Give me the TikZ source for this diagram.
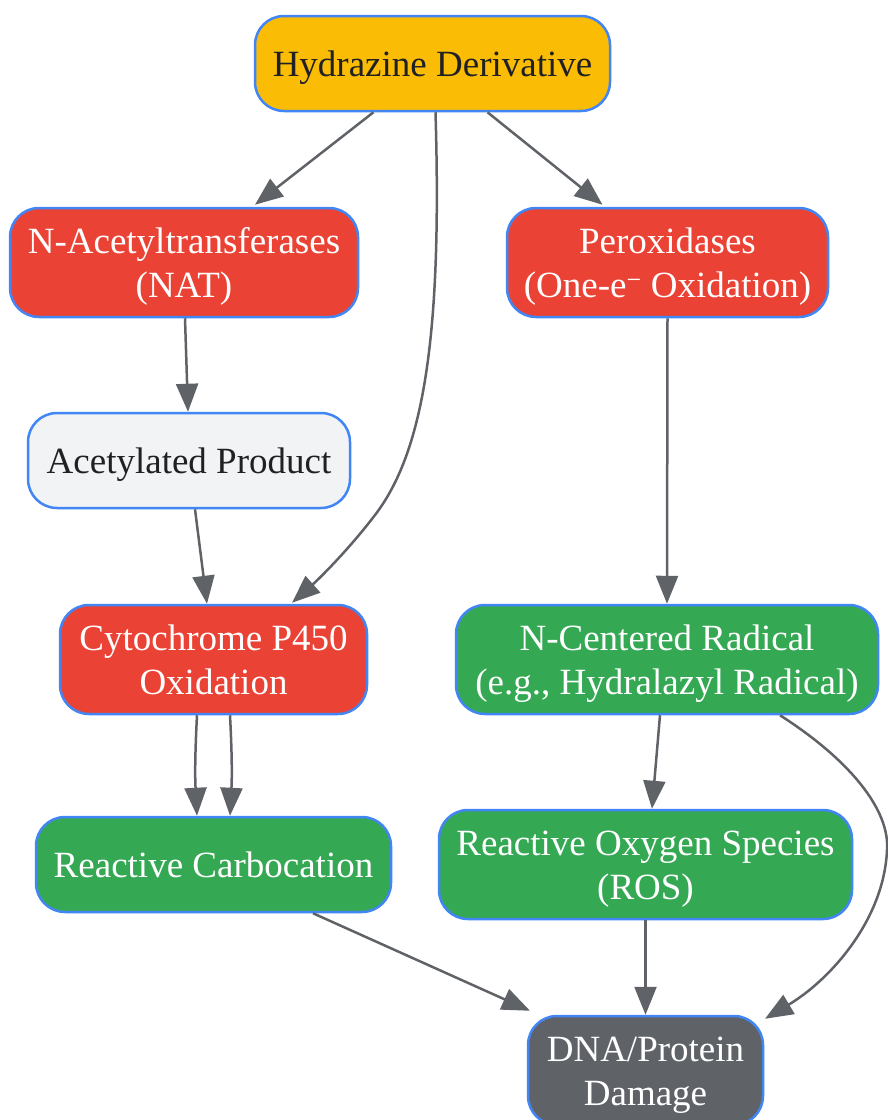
\documentclass[tikz,border=0pt]{standalone}
\usepackage{fontspec}
\setmainfont{Liberation Serif}
\usetikzlibrary{arrows.meta}
\definecolor{cyel}{HTML}{FBBC05}
\definecolor{cred}{HTML}{EA4335}
\definecolor{cgrn}{HTML}{34A853}
\definecolor{cgry}{HTML}{5F6368}
\definecolor{clgt}{HTML}{F1F3F5}
\definecolor{cblu}{HTML}{4285F4}
\definecolor{cdark}{HTML}{202124}
\definecolor{cedge}{HTML}{5F6368}
\newcommand\lnstrut{\rule[-8.8pt]{0pt}{44pt}}
\tikzset{
  box/.style={draw=cblu, line width=2.5pt, rounded corners=29pt, align=center,
    inner sep=0pt, font=\fontsize{37}{44}\selectfont, text=white},
  yel/.style={box, fill=cyel, text=cdark},
  red/.style={box, fill=cred},
  grn/.style={box, fill=cgrn},
  gry/.style={box, fill=cgry},
  lgt/.style={box, fill=clgt, text=cdark},
  conn/.style={draw=cedge, line width=2.5pt, -{Triangle[length=28pt,width=22pt]}},
}
\begin{document}
\begin{tikzpicture}[x=1pt,y=-1pt]
\useasboundingbox (0,0) rectangle (887,1120);
\node[yel, minimum width=355pt, minimum height=95pt] (hyd) at (432.5,63.5) {\lnstrut Hydrazine Derivative};
\node[red, minimum width=348pt, minimum height=109pt] (nat) at (184,262.5) {\lnstrut N-Acetyltransferases\\\lnstrut(NAT)};
\node[red, minimum width=321pt, minimum height=109pt] (per) at (667.5,262.5) {\lnstrut Peroxidases\\\lnstrut(One-e\textsuperscript{\char"2212} Oxidation)};
\node[lgt, minimum width=322pt, minimum height=95pt] (acp) at (189,460.5) {\lnstrut Acetylated Product};
\node[red, minimum width=307pt, minimum height=109pt] (cyp) at (213.5,659.5) {\lnstrut Cytochrome P450\\\lnstrut Oxidation};
\node[grn, minimum width=422pt, minimum height=109pt] (ncr) at (667,659.5) {\lnstrut N-Centered Radical\\\lnstrut(e.g., Hydralazyl Radical)};
\node[grn, minimum width=355pt, minimum height=95pt] (car) at (213.5,864.5) {\lnstrut Reactive Carbocation};
\node[grn, minimum width=413pt, minimum height=109pt] (ros) at (645.5,864.5) {\lnstrut Reactive Oxygen Species\\\lnstrut(ROS)};
\node[gry, minimum width=235pt, minimum height=109pt] (dna) at (645.5,1070.5) {\lnstrut DNA/Protein\\\lnstrut Damage};

\draw[conn] ([xshift=-59pt]hyd.south) -- ([xshift=71pt,yshift=2pt]nat.north);
\draw[conn] ([xshift=55pt]hyd.south) -- ([xshift=-65pt,yshift=2pt]per.north);
\draw[conn] ([xshift=3pt]hyd.south) .. controls (442,330) and (425,450) .. (375,515)
  .. controls (350,548) and (320,578) .. ([xshift=78.5pt,yshift=1pt]cyp.north);
\draw[conn] ([xshift=1pt]nat.south) -- ([xshift=-1pt]acp.north);
\draw[conn] ([xshift=6pt]acp.south) -- ([xshift=-6.5pt]cyp.north);
\draw[conn] ([xshift=-16.5pt]cyp.south) to[bend right=3] ([xshift=-16.5pt]car.north);
\draw[conn] ([xshift=16.5pt]cyp.south) to[bend left=3] ([xshift=16.5pt]car.north);
\draw[conn] (per.south) -- (ncr.north);
\draw[conn] ([xshift=-7pt]ncr.south) -- ([xshift=6.5pt]ros.north);
\draw[conn] ([xshift=113pt]ncr.south) .. controls (850,760) and (890,810) .. (887,850)
  .. controls (884,920) and (830,980) .. ([xshift=119.5pt,yshift=-4pt]dna.north);
\draw[conn] ([xshift=99.5pt]car.south) -- ([xshift=-115.5pt,yshift=4pt]dna.north);
\draw[conn] (ros.south) -- (dna.north);
\end{tikzpicture}
\end{document}
